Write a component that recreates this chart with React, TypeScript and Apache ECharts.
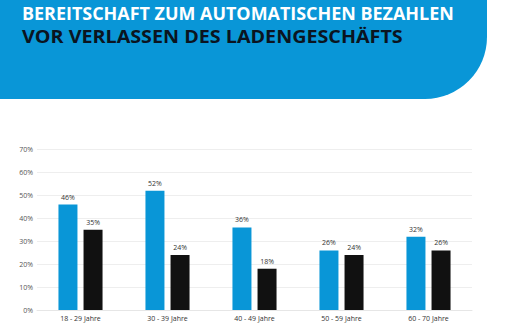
import React, { useEffect, useRef } from "react";
import * as echarts from "echarts";

const categories = ["18 - 29 Jahre", "30 - 39 Jahre", "40 - 49 Jahre", "50 - 59 Jahre", "60 - 70 Jahre"];
const seriesA = [46, 52, 36, 26, 32];
const seriesB = [35, 24, 18, 24, 26];
const titleLine1 = "BEREITSCHAFT ZUM AUTOMATISCHEN BEZAHLEN";
const titleLine2 = "VOR VERLASSEN DES LADENGESCHÄFTS";

const BLUE = "#0996d7";

export default function App() {
  const ref = useRef<HTMLDivElement>(null);
  useEffect(() => {
    const chart = echarts.init(ref.current!, null, { renderer: "svg" });
    chart.setOption({
      animation: false,
      backgroundColor: "#ffffff",
      graphic: [
        {
          type: "rect",
          shape: { x: -20, y: -80, width: 507, height: 179, r: [0, 0, 62, 0] },
          style: { fill: BLUE },
          z: 0,
        },
        {
          type: "text",
          x: 22,
          y: 5,
          scaleX: 1.055,
          style: {
            text: titleLine1,
            fill: "#ffffff",
            font: "bold 17px 'Open Sans'",
          },
          z: 1,
        },
        {
          type: "text",
          x: 22,
          y: 28,
          scaleX: 1.16,
          style: {
            text: titleLine2,
            fill: "#0b1420",
            font: "bold 17px 'Open Sans'",
          },
          z: 1,
        },
      ],
      grid: { left: 37, right: 44, top: 149.5, bottom: 13, containLabel: false },
      xAxis: {
        type: "category",
        data: categories,
        axisLine: { show: true, lineStyle: { color: "#e6e6e6" } },
        axisTick: { show: false },
        axisLabel: { fontSize: 7, color: "#333333", margin: 5, fontFamily: "'Open Sans'" },
      },
      yAxis: {
        type: "value",
        min: 0,
        max: 70,
        interval: 10,
        axisLabel: { formatter: "{value}%", fontSize: 7, color: "#555555", margin: 4, fontFamily: "'Open Sans'" },
        splitLine: { lineStyle: { color: "#eeeeee" } },
        axisLine: { show: false },
        axisTick: { show: false },
      },
      series: [
        {
          type: "bar",
          data: seriesA,
          barWidth: 19,
          barGap: "32%",
          itemStyle: { color: BLUE },
          label: { show: true, position: "top", formatter: "{c}%", fontSize: 7, color: "#333333", distance: 4, fontFamily: "'Open Sans'" },
        },
        {
          type: "bar",
          data: seriesB,
          barWidth: 19,
          barGap: "32%",
          itemStyle: { color: "#111111" },
          label: { show: true, position: "top", formatter: "{c}%", fontSize: 7, color: "#333333", distance: 4, fontFamily: "'Open Sans'" },
        },
      ],
    });
    return () => chart.dispose();
  }, []);
  return <div ref={ref} style={{ width: 516, height: 323, position: "fixed", left: 0, top: 0 }} />;
}
